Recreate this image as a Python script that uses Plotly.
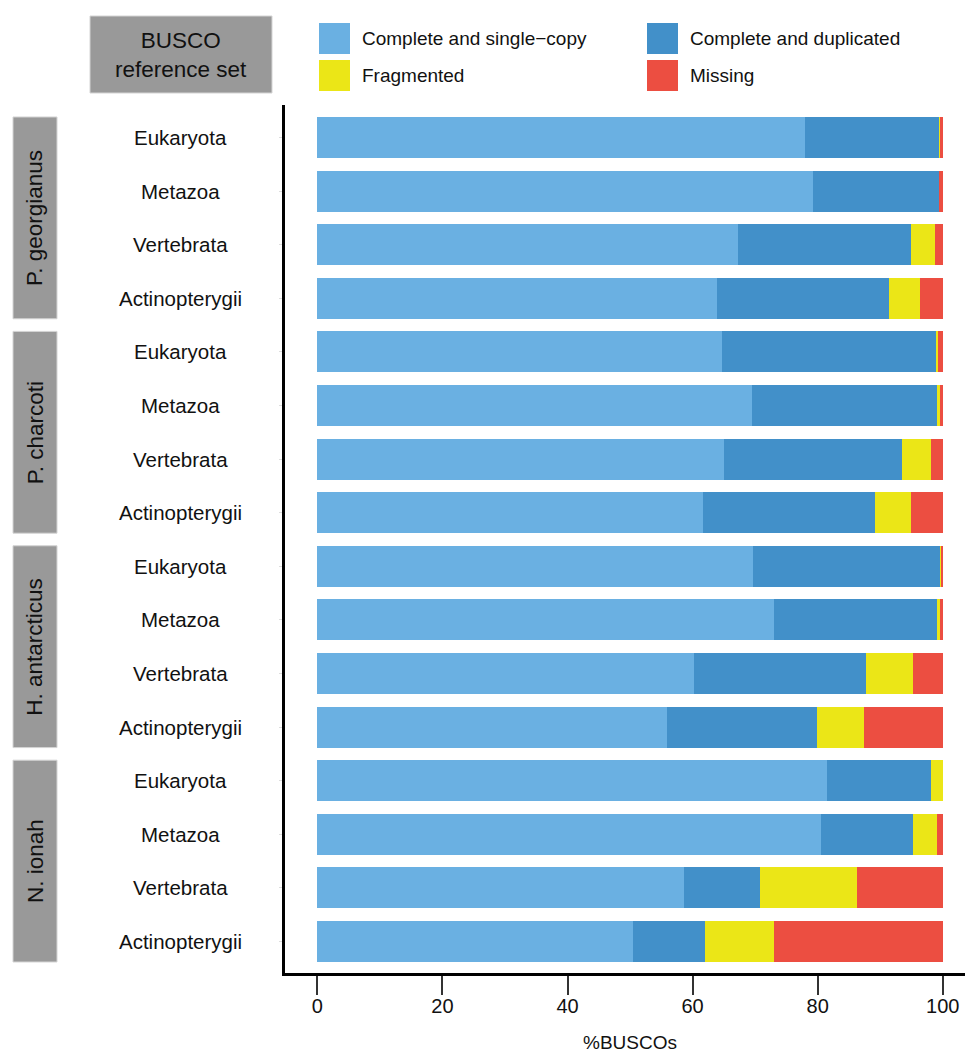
import plotly.graph_objects as go

# BUSCO completeness per genome and reference set
species = ["P. georgianus", "P. charcoti", "H. antarcticus", "N. ionah"]
ref_sets = ["Eukaryota", "Metazoa", "Vertebrata", "Actinopterygii"]

series_names = ["Complete and single\u2212copy", "Complete and duplicated",
                "Fragmented", "Missing"]
series_colors = ["#6AB0E2", "#4290C9", "#EBE617", "#EC4E41"]

single = [77.9, 79.2, 67.2, 63.9,
          64.7, 69.5, 65.0, 61.6,
          69.6, 73.0, 60.2, 55.9,
          81.5, 80.5, 58.6, 50.4]
duplicated = [21.5, 20.2, 27.7, 27.5,
              34.3, 29.5, 28.4, 27.5,
              30.1, 26.0, 27.5, 24.0,
              16.6, 14.7, 12.1, 11.6]
fragmented = [0.3, 0.0, 3.8, 4.9,
              0.2, 0.7, 4.7, 5.8,
              0.1, 0.5, 7.5, 7.5,
              1.9, 3.8, 15.6, 11.0]
missing = [0.3, 0.6, 1.3, 3.7,
           0.8, 0.3, 1.9, 5.1,
           0.2, 0.5, 4.8, 12.6,
           0.0, 1.0, 13.7, 27.0]

x_ticks = [0, 20, 40, 60, 80, 100]

# figure geometry (pixels)
W, H = 965, 1056
L, R, T, B = 285, 0, 105, 83
BAR_W = 0.765
FONT = "Liberation Sans, Arial, Helvetica, sans-serif"


def px(x):
    return (x - L) / (W - L - R)


def py(y):
    return (H - B - y) / (H - T - B)


rows = list(range(1, len(species) * len(ref_sets) + 1))
row_labels = [r for _ in species for r in ref_sets]

fig = go.Figure()
for name, color, vals in zip(series_names, series_colors,
                             [single, duplicated, fragmented, missing]):
    fig.add_trace(go.Bar(
        y=rows, x=vals, name=name, orientation="h", width=BAR_W,
        marker=dict(color=color, line=dict(width=0)),
        showlegend=False,
    ))

shapes = []
annotations = []

# reference-set labels next to each bar
for r, lab in zip(rows, row_labels):
    annotations.append(dict(
        x=px(180), y=r, xref="paper", yref="y", text=lab, showarrow=False,
        xanchor="center", yanchor="middle",
        font=dict(family=FONT, size=20.5, color="#111111"),
    ))

# species strips
n = len(ref_sets)
for i, sp in enumerate(species):
    y0 = rows[i * n] - BAR_W / 2
    y1 = rows[i * n + n - 1] + BAR_W / 2
    shapes.append(dict(
        type="rect", xref="paper", yref="y", x0=px(13), x1=px(57),
        y0=y0, y1=y1, fillcolor="#999999",
        line=dict(color="#d4d4d4", width=1), layer="above",
    ))
    annotations.append(dict(
        x=px(35), y=(y0 + y1) / 2, xref="paper", yref="y", text=sp,
        textangle=-90, showarrow=False, xanchor="center", yanchor="middle",
        font=dict(family=FONT, size=22.5, color="#111111"),
    ))

# header box
shapes.append(dict(
    type="rect", xref="paper", yref="paper", x0=px(90), x1=px(272),
    y0=py(93), y1=py(16), fillcolor="#999999",
    line=dict(color="#d4d4d4", width=1),
))
annotations.append(dict(
    x=px(181), y=py(54.5), xref="paper", yref="paper",
    text="BUSCO<br>reference set", showarrow=False,
    xanchor="center", yanchor="middle", align="center",
    font=dict(family=FONT, size=22.5, color="#111111"),
))

# legend (2 x 2 grid of swatches)
legend_cols = [319, 647]
legend_rows = [23, 60]
SW = 31
for k, (name, color) in enumerate(zip(series_names, series_colors)):
    cx = legend_cols[k % 2]
    cy = legend_rows[k // 2]
    shapes.append(dict(
        type="rect", xref="paper", yref="paper", x0=px(cx), x1=px(cx + SW),
        y0=py(cy + SW), y1=py(cy), fillcolor=color, line=dict(width=0),
    ))
    annotations.append(dict(
        x=px(cx + SW + 10), y=py(cy + SW / 2), xref="paper", yref="paper",
        text=name, showarrow=False, xanchor="left", yanchor="middle",
        font=dict(family=FONT, size=19, color="#111111"),
    ))

# x-axis title
annotations.append(dict(
    x=50, y=py(1042), xref="x", yref="paper", text="%BUSCOs",
    showarrow=False, xanchor="center", yanchor="middle",
    font=dict(family=FONT, size=19, color="#111111"),
))

x_left = (L - 317.3) / 6.255
x_right = (W - R - 317.3) / 6.255
fig.update_layout(
    width=W, height=H,
    margin=dict(l=L, r=R, t=T, b=B, pad=0),
    barmode="stack", bargap=0,
    plot_bgcolor="white", paper_bgcolor="white",
    shapes=shapes, annotations=annotations,
    showlegend=False,
    xaxis=dict(
        range=[x_left, x_right], tickvals=x_ticks,
        ticktext=[str(v) for v in x_ticks],
        showgrid=False, zeroline=False,
        showline=True, linecolor="black", linewidth=3,
        ticks="outside", ticklen=19, tickwidth=2, tickcolor="#333333",
        ticklabelstandoff=-6,
        tickfont=dict(family=FONT, size=20, color="#111111"),
    ),
    yaxis=dict(
        range=[16 + 0.588, 1 - 0.606], tickvals=rows,
        showticklabels=False, showgrid=False, zeroline=False,
        showline=True, linecolor="black", linewidth=3,
        ticks="outside", ticklen=3, tickwidth=1, tickcolor="#dddddd",
    ),
    font=dict(family=FONT),
)

fig.write_html("out.html")
